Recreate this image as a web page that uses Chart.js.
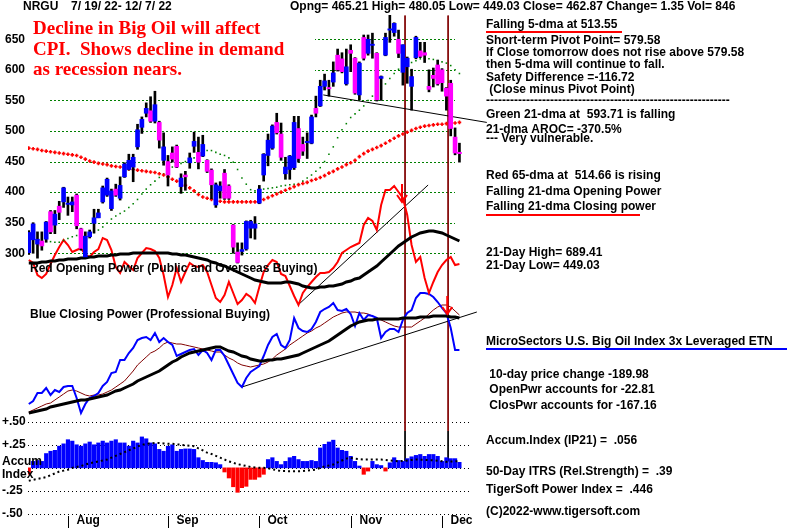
<!DOCTYPE html>
<html>
<head>
<meta charset="utf-8">
<script src="https://cdn.jsdelivr.net/npm/chart.js@4.4.0/dist/chart.umd.min.js"></script>
<style>
  html, body { margin: 0; padding: 0; background: #fff; }
  canvas { display: block; }
</style>
</head>
<body>
<canvas id="myChart" width="800" height="528"></canvas>
<script>
// NRGU daily bars 7/19/22 - 12/7/22 (100 trading days, index 0..99)
const monthStarts = [9, 32, 53, 74, 95];
const monthNames = ['Aug', 'Sep', 'Oct', 'Nov', 'Dec'];
const priceTicks = [650, 600, 550, 500, 450, 400, 350, 300];
const accumTicks = [0.5, 0.25, 0, -0.25, -0.5];
const accumTickLabels = ['+.50', '+.25', '', '-.25', '-.50'];

const opens = [301,322,315,320,323,368,346,377,384,380, 379,395,340,294,327,349,358,384,395,373,
  405,390,425,437,441,474,506,529,533,516, 514,452,450,464,475,409,428,448,475,465,
  459,452,436,379,402,431,410,346,302,303, 307,341,341,382,428,460,472,514,495,430,
  437,440,504,478,481,480,537,541,573,571, 580,624,618,577,632,619,559,653,627,640,
  627,586,624,665,661,650,596,605,573,620, 631,628,573,591,608,600,570,578,490,465.21];
const highs = [337,350,335,335,352,370,370,385,408,392, 392,397,341,335,338,372,372,410,423,405,
  413,425,448,462,462,511,523,546,556,565, 516,497,460,474,477,430,434,464,498,490,
  493,453,438,415,417,437,412,347,317,317, 353,354,360,411,463,495,510,529,513,457,
  460,524,524,490,497,526,557,583,593,583, 613,634,628,634,641,620,613,657,657,660,
  628,590,660,690,677,665,641,621,601,655, 645,645,600,603,616,602,571,583,505,480.05];
const lows = [298,300,292,305,318,332,332,355,375,362, 368,340,305,292,325,333,358,382,393,370,
  393,387,424,436,417,470,496,523,514,513, 472,444,410,449,440,398,403,439,465,438,
  458,432,389,375,390,388,388,300,284,297, 305,325,323,381,418,443,470,495,452,421,
  421,437,449,460,455,479,523,540,567,557, 573,598,595,575,597,560,551,616,624,619,
  549,550,623,645,655,620,575,578,534,618, 620,612,564,572,575,565,534,492,461,449.03];
const closes = [334,348,323,312,351,335,364,367,407,382, 384,345,308,328,335,358,366,407,421,402,
  395,411,446,452,457,502,519,537,516,543, 485,474,428,454,441,423,425,456,483,449,
  478,434,412,412,410,390,390,310,285,306, 352,352,348,405,462,485,508,497,457,441,
  459,514,455,467,483,523,529,573,582,569, 595,600,597,605,627,562,611,619,650,642,
  551,589,653,667,676,627,641,619,589,653, 622,624,568,586,577,579,557,504,464,462.87];

// moving averages of price
const ma65 = [472,471,470,468,467,466,465,464,463,462, 461,460,457,454,451,449,447,446,445,443,
  442,441,440,438,437,436,435,434,433,432, 430,428,425,421,418,414,411,407,402,396,
  392,390,388,386,385,384,384,384,384,384, 384,384,384,385,388,391,394,397,400,403,
  406,409,412,414,416,419,421,424,427,431, 434,438,441,445,448,452,458,463,467,470,
  473,476,480,484,488,492,495,498,501,504, 506,508,509,510,511,511,512,512,513,514];
const ma21 = [null,null,null,null,null,319,318,318,321,324, 327,329,331,332,333,334,338,343,349,356,
  361,365,369,375,381,388,397,405,412,418, 424,430,436,441,444,447,450,452,456,459,
  464,468,468,465,462,460,456,449,437,423, 413,404,402,403,405,406,407,408,410,411,
  412,413,414,418,423,428,434,440,450,462, 474,489,502,512,522,528,534,541,550,557,
  563,570,577,586,594,601,607,610,612,615, 618,619,618,617,615,613,611,607,600,594];

// Opening Power (red) and its moving average
const openPower = [25,23.5,17.5,16,18,23,27.5,31.5,35,32.5, 29,30,31,27.5,26.5,29,30.5,36,35,30,
  21.5,18.5,24,22,20,26,28.5,31,30.5,29.5, 26,17.5,6.5,12.5,21,14,19,23.5,22,21.5,
  22.5,19,12.5,6,4,7.5,14,8.5,3,5, 8,6.5,3.5,11.5,19,22.5,25,24,18,17,
  12,7,2.5,8.5,11.5,14,16.5,18.5,18.5,19, 21,24,28.5,30,31.5,32.5,33.5,42.5,46,44.5,
  40,52.5,60,60,62,59,56,47.5,32.5,24, 26.5,16,8.5,14,19,22.5,25,26.5,22.5,23];
const openPowerMA = [23.5,23.5,23.5,24,24,24.5,24.5,25,25,25.5, 25.5,25.5,26,26,26.5,26.5,27,27,27,27.5,
  27.5,28,28,28,28.5,28.5,28.5,28.5,28.5,28.5, 28.5,28.5,28.5,28,28,27.5,27.5,27,26.5,26,
  25.5,25,24,23.5,22.5,22,21,20,19,18, 17,16,15,14.5,14,13.5,13.5,13.5,13.5,14,
  14,13.5,13,12,11.5,11,11,11.5,11.5,12, 12,12.5,13,14,14.5,15.5,16,17.5,19,20.5,
  22,24,26,28,30,32,33.5,35,36.5,37.5, 38.5,39,39.5,39.5,39,38.5,37.5,36.5,35.5,34.5];

// Closing Power (blue), its short (dark red) and long (black) averages
const closePower = [8,9.5,13.5,13.5,16,12.5,15,14,16.5,17, 17,11,3.5,8,11,12,13.5,17,19,23.5,
  24,30,30,33.5,36,40,41,41.5,40,43.5, 39,41,39,37.5,32,33,34,35,35.5,32.5,
  35,33.5,30,35,35,32,27.5,23,18.5,16.5, 21,24,25.5,27,32,37.5,41.5,43,37.5,36,
  40,51,46,44.5,44,45.5,49,54,55.5,56.5, 58.5,55,54.5,55.5,53,47,53.5,50,52.5,52,
  51,41,44,45.5,45.5,44,50,53.5,55,61, 63.5,63.5,63,61.5,59,56,53.5,46,35,35];
const closePowerSignal = [4,5,6,7,8,8.5,10,11.5,13,14.5, 15,14.5,13.5,12.5,12,12.5,12.5,13,14,15,
  16.5,18,19.5,22,24.5,27.5,29.5,31.5,33.5,34.5, 36,38,39,38.5,38,38,37.5,37,36.5,36,
  35.5,35,34.5,34,34,32.5,31,30,28.5,27.5, 27,26.5,27,27.5,28,29,30.5,32.5,34,35.5,
  37.5,39,40.5,42,43.5,44.5,46,47,48.5,50, 51.5,52.5,53.5,54,54,54,53.5,53.5,53,52,
  51,50,49,48,47,46.5,46.5,46.5,46.5,48, 49.5,51,53,55,56.5,57.5,57.5,56.5,54.5,52.5];
const closePowerMA = [3.5,4,4.5,5,5.5,6.5,7,7.5,8,8.5, 9,9.5,10,10,10.5,11,11.5,12,12.5,13.5,
  14.5,15,16,17,18,19.5,20.5,21.5,22.5,23.5, 24.5,26,27.5,29,30,31.5,32.5,33.5,34,34.5,
  35,35.5,36,36.5,36.5,35.5,34.5,34,33,32, 31.5,30.5,30,29.5,29.5,30,30,30.5,30.5,31,
  31.5,32,32.5,33.5,34.5,35.5,36.5,37.5,38.5,39.5, 41,42.5,44,45.5,47,48,49,49.5,50,50,
  50.5,50.5,50.5,50.5,50.5,50.5,51,51,51,51, 51.5,51.5,51.5,52,52,52,52,51.5,51.5,51];

// Accumulation Index (IP21) and its average
const accum = [-0.07,0.07,0.08,0.07,0.155,0.18,0.19,0.235,0.26,0.305, 0.29,0.25,0.235,0.26,0.28,0.25,0.27,0.29,0.27,0.29,
  0.305,0.27,0.27,0.235,0.29,0.27,0.335,0.315,0.27,0.26, 0.2,0.18,0.235,0.25,0.18,0.2,0.205,0.205,0.2,0.11,
  0.08,0.06,0.06,0.055,0.035,-0.045,-0.11,-0.205,-0.265,-0.215, -0.2,-0.125,-0.125,-0.1,-0.07,0.09,0.11,0.07,0.035,0.07,
  0.11,0.125,0.09,0.07,0.07,0.08,0.07,0.215,0.255,0.28, 0.3,0.215,0.19,0.18,0.125,0.07,0.02,-0.07,-0.035,0.07,
  0.035,0.025,-0.035,0.055,0.11,0.08,0.07,0.1,0.12,0.135, 0.145,0.125,0.145,0.145,0.125,0.07,0.11,0.1,0.1,0.06];
const accumMA = [-0.14,-0.13,-0.12,-0.11,-0.1,-0.08,-0.06,-0.04,-0.03,-0.02, 0,0.01,0.02,0.035,0.05,0.06,0.07,0.08,0.09,0.11,
  0.13,0.15,0.17,0.19,0.21,0.23,0.25,0.26,0.265,0.27, 0.27,0.265,0.26,0.26,0.255,0.25,0.245,0.24,0.235,0.21,
  0.19,0.165,0.15,0.13,0.11,0.09,0.07,0.055,0.04,0.03, 0.02,0.01,0.005,0,0,-0.005,-0.015,-0.025,-0.035,-0.035,
  -0.036,-0.036,-0.036,-0.035,-0.03,-0.025,-0.018,0,0.015,0.025, 0.036,0.06,0.08,0.1,0.108,0.1,0.095,0.09,0.09,0.09,
  0.09,0.09,0.085,0.08,0.075,0.072,0.075,0.08,0.085,0.09, 0.088,0.086,0.084,0.083,0.078,0.072,0.065,0.068,0.07,0.072];

// trend lines [day, value]
const priceTrend = [[67.7, 559], [105.3, 514]];
const openTrend = [[61.9, 2.5], [91.8, 62.5]];
const closeTrend = [[49, 16.5], [103, 54]];
const signalDays = [86.5, 96.4];

const sans = '"Liberation Sans", Arial, sans-serif';
const serif = '"Liberation Serif", "Times New Roman", serif';
Chart.defaults.font.family = sans;

const xy = arr => arr.map((v, i) => ({ x: i, y: v }));
const pairs = arr => arr.map(p => ({ x: p[0], y: p[1] }));

function lineSet(data, axis, color, width, extra) {
    return Object.assign({
        type: 'line', data: data, yAxisID: axis, borderColor: color, borderWidth: width,
        pointRadius: 0, tension: 0, fill: false
    }, extra || {});
}

const bodyColors = opens.map((o, i) => closes[i] >= o ? '#0000ff' : '#ff00ff');
const accumColors = accum.map(v => v >= 0 ? '#0000ff' : '#ff0000');

const datasets = [
    { type: 'bar', data: opens.map((o, i) => ({ x: i, y: [o, closes[i]] })), yAxisID: 'y',
      backgroundColor: bodyColors, barThickness: 4, grouped: false, order: 1 },
    { type: 'bar', data: lows.map((l, i) => ({ x: i, y: [l, highs[i]] })), yAxisID: 'y',
      backgroundColor: '#000', barThickness: 2, grouped: false, order: 2 },
    lineSet(xy(ma65), 'y', '#ff0000', 0, { showLine: false, pointRadius: 1.8, pointStyle: 'cross',
      pointBorderColor: '#ff0000', pointBorderWidth: 1.6, order: 3 }),
    lineSet(xy(ma21), 'y', '#008000', 0, { showLine: false, pointRadius: 1.1, pointStyle: 'rect',
      pointBackgroundColor: '#008000', pointBorderWidth: 0, order: 3 }),
    lineSet(pairs(priceTrend), 'y', '#000', 1, { clip: false, order: 4 }),

    lineSet(xy(openPower), 'yOP', '#ff0000', 2, { order: 6 }),
    lineSet(xy(openPowerMA), 'yOP', '#000', 3, { order: 5 }),
    lineSet(pairs(openTrend), 'yOP', '#000', 1, { order: 7 }),

    lineSet(xy(closePower), 'yCP', '#0000ff', 2, { order: 6 }),
    lineSet(xy(closePowerSignal), 'yCP', '#800000', 1, { order: 7 }),
    lineSet(xy(closePowerMA), 'yCP', '#000', 3, { order: 5 }),
    lineSet(pairs(closeTrend), 'yCP', '#000', 1, { clip: false, order: 7 }),

    { type: 'bar', data: xy(accum), yAxisID: 'yAI', backgroundColor: accumColors,
      barThickness: 3.5, grouped: false, order: 9 },
    lineSet(xy(accumMA), 'yAI', '#000', 2, { borderDash: [2, 3], order: 8 })
];

signalDays.forEach(d => {
    datasets.push(lineSet([{ x: d, y: 4.9 }, { x: d, y: 0.4 }], 'yAI', '#800000', 1, { order: 10 }));
    datasets.push(lineSet([{ x: d, y: 0.4 }, { x: d, y: 0.07 }], 'yAI', '#000', 1, { order: 10 }));
});

const arrows = [
    { day: 85.8, axis: 'yOP', from: 63, to: 54 },
    { day: 96.2, axis: 'yCP', from: 62, to: 53 }
];

const notes = [
    ['Falling 5-dma at 513.55', 25],
    ['Short-term Pivot Point= 579.58', 41],
    ['If Close tomorrow does not rise above 579.58', 53],
    ['then 5-dma will continue to fall.', 65],
    ['Safety Difference =-116.72', 78],
    [' (Close minus Pivot Point)', 90],
    ['Green 21-dma at  593.71 is falling', 115],
    ['21-dma AROC= -370.5%', 130],
    ['--- Very vulnerable.', 139],
    ['Red 65-dma at  514.66 is rising', 176],
    ['Falling 21-dma Opening Power', 192],
    ['Falling 21-dma Closing power', 207],
    ['21-Day High= 689.41', 253],
    ['21-Day Low= 449.03', 266],
    ['MicroSectors U.S. Big Oil Index 3x Leveraged ETN', 342],
    [' 10-day price change -189.98', 375],
    [' OpenPwr accounts for -22.81', 390],
    [' ClosPwr accounts for -167.16', 406],
    ['Accum.Index (IP21) =  .056', 441],
    ['50-Day ITRS (Rel.Strength) =  .39', 472],
    ['TigerSoft Power Index =  .446', 490],
    ['(C)2022-www.tigersoft.com', 512]
];

const tigerPlugin = {
    id: 'tigerPlugin',
    beforeDatasetsDraw(chart) {
        const ctx = chart.ctx, a = chart.chartArea;
        const y = chart.scales.y, yAI = chart.scales.yAI;
        ctx.save();
        ctx.lineWidth = 1;
        ctx.strokeStyle = '#008000';
        ctx.setLineDash([2, 2]);
        priceTicks.forEach(v => {
            const py = Math.round(y.getPixelForValue(v)) + 0.5;
            ctx.beginPath();
            ctx.moveTo(a.left + 22, py);
            ctx.lineTo(a.right - 17, py);
            ctx.stroke();
        });
        ctx.strokeStyle = '#000';
        ctx.setLineDash([1, 3]);
        accumTicks.forEach(v => {
            const py = Math.round(yAI.getPixelForValue(v)) + 0.5;
            ctx.beginPath();
            ctx.moveTo(a.left, py);
            ctx.lineTo(a.right, py);
            ctx.stroke();
        });
        ctx.restore();
    },
    afterDatasetsDraw(chart) {
        const ctx = chart.ctx, a = chart.chartArea;
        const x = chart.scales.x, yAI = chart.scales.yAI;
        ctx.save();

        // arrows
        ctx.strokeStyle = '#ff0000';
        ctx.lineWidth = 2;
        arrows.forEach(ar => {
            const sc = chart.scales[ar.axis];
            const px = x.getPixelForValue(ar.day);
            const y0 = sc.getPixelForValue(ar.from), y1 = sc.getPixelForValue(ar.to);
            ctx.beginPath();
            ctx.moveTo(px, y0); ctx.lineTo(px, y1);
            ctx.moveTo(px - 5, y1 - 7); ctx.lineTo(px, y1); ctx.lineTo(px + 5, y1 - 7);
            ctx.stroke();
        });

        // title box
        ctx.fillStyle = '#fff';
        ctx.fillRect(a.left + 1, a.top, 286, 68);
        ctx.fillStyle = '#ff0000';
        ctx.font = 'bold 19px ' + serif;
        ctx.textBaseline = 'alphabetic';
        ctx.textAlign = 'left';
        ctx.fillText('Decline in Big Oil will affect', 33, 34);
        ctx.fillText('CPI.  Shows decline in demand', 33, 54.5);
        ctx.fillText('as recession nears.', 33, 75);

        ctx.fillStyle = '#000';
        ctx.font = 'bold 12px ' + sans;
        ctx.textBaseline = 'middle';
        ctx.fillText('NRGU', 23, 7);
        ctx.fillText('7/ 19/ 22- 12/ 7/ 22', 71, 7);
        ctx.fillText('Opng= 465.21 High= 480.05 Low= 449.03 Close= 462.87 Change= 1.35 Vol= 846', 290, 7);

        ctx.fillText('Red Opening Power (Public and Overseas Buying)', 30, 269);
        ctx.fillText('Blue Closing Power (Professional Buying)', 30, 315);

        // accum axis labels
        accumTicks.forEach((v, k) => {
            if (accumTickLabels[k]) ctx.fillText(accumTickLabels[k], 2, yAI.getPixelForValue(v));
        });
        ctx.fillText('Accum', 2, yAI.getPixelForValue(0) - 6);
        ctx.fillText('Index', 2, yAI.getPixelForValue(0) + 7);

        // months
        ctx.strokeStyle = '#000';
        ctx.lineWidth = 1;
        monthStarts.forEach((d, k) => {
            const px = Math.round(x.getPixelForValue(d)) + 0.5;
            ctx.beginPath();
            ctx.moveTo(px, a.bottom + 2);
            ctx.lineTo(px, chart.height);
            ctx.stroke();
            ctx.fillText(monthNames[k], px + 8, 521);
        });

        // right side notes
        notes.forEach(n => ctx.fillText(n[0], 486, n[1]));
        ctx.fillText('-'.repeat(61), 486, 101);

        ctx.lineWidth = 2;
        ctx.strokeStyle = '#ff0000';
        ctx.beginPath(); ctx.moveTo(486, 32); ctx.lineTo(622, 32); ctx.stroke();
        ctx.beginPath(); ctx.moveTo(486, 215); ctx.lineTo(640, 215); ctx.stroke();
        ctx.strokeStyle = '#0000ff';
        ctx.beginPath(); ctx.moveTo(486, 349); ctx.lineTo(787, 349); ctx.stroke();
        ctx.restore();
    }
};

const ctx = document.getElementById('myChart');
new Chart(ctx, {
    type: 'bar',
    data: { datasets: datasets },
    options: {
        responsive: false,
        animation: false,
        events: [],
        layout: { padding: { left: 0, right: 328, top: 15, bottom: 14 } },
        plugins: { legend: { display: false }, tooltip: { enabled: false } },
        scales: {
            x: { type: 'linear', min: -0.18, max: 101.89, offset: false, display: false },
            y: {
                position: 'left', min: -126.45, max: 689.7,
                grid: { display: false, drawTicks: false, tickLength: 0 },
                border: { display: false },
                ticks: { color: '#000', padding: 3, font: { size: 12, weight: 'bold' } },
                afterBuildTicks: axis => { axis.ticks = priceTicks.map(v => ({ value: v })); },
                afterFit: axis => { axis.width = 28; }
            },
            yOP: { display: false, min: -102, max: 147.5 },
            yCP: { display: false, min: -47, max: 202.5 },
            yAI: { display: false, min: -0.5, max: 4.906 }
        }
    },
    plugins: [tigerPlugin]
});
</script>
</body>
</html>
